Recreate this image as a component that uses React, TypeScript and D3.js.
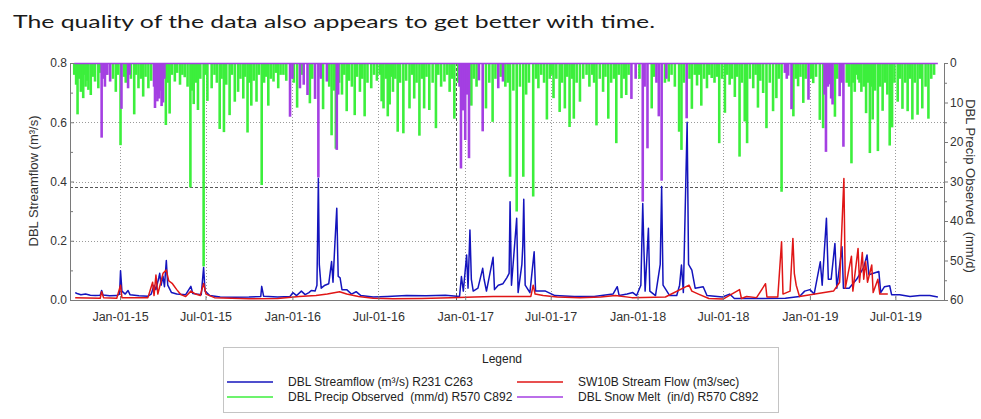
import React, { useEffect, useRef } from "react";
import * as d3 from "d3";

type Pt = [string, number];

const title = "The quality of the data also appears to get better with time.";

const xTickDates = [
  "2015-01-01", "2015-07-01", "2016-01-01", "2016-07-01", "2017-01-01",
  "2017-07-01", "2018-01-01", "2018-07-01", "2019-01-01", "2019-07-01",
];
const leftTicks = [0, 0.2, 0.4, 0.6, 0.8];
const leftMinorTicks = [0.1, 0.3, 0.5, 0.7];
const rightTicks = [0, 10, 20, 30, 40, 50, 60];
const rightMinorTicks = [5, 15, 25, 35, 45, 55];

// cursor cross-hair left on the chart
const cursorDate = "2016-12-13";
const cursorValue = 0.38;

// DBL Streamflow (m3/s)
const streamflow: Pt[] = [
  ["2014-09-28", 0.025], ["2014-10-02", 0.022], ["2014-10-10", 0.018], ["2014-10-20", 0.02],
  ["2014-10-30", 0.016], ["2014-11-10", 0.015], ["2014-11-20", 0.016], ["2014-11-23", 0.032],
  ["2014-11-26", 0.017], ["2014-12-10", 0.014], ["2014-12-25", 0.015], ["2014-12-31", 0.02],
  ["2015-01-02", 0.099], ["2015-01-05", 0.03], ["2015-01-12", 0.02], ["2015-01-18", 0.032],
  ["2015-01-22", 0.018], ["2015-02-10", 0.014], ["2015-03-01", 0.013], ["2015-03-08", 0.02],
  ["2015-03-14", 0.05], ["2015-03-18", 0.035], ["2015-03-24", 0.075], ["2015-03-26", 0.09],
  ["2015-03-29", 0.05], ["2015-04-02", 0.08], ["2015-04-05", 0.045], ["2015-04-09", 0.133],
  ["2015-04-12", 0.05], ["2015-04-20", 0.025], ["2015-05-01", 0.02], ["2015-05-20", 0.018],
  ["2015-05-31", 0.046], ["2015-06-04", 0.022], ["2015-06-12", 0.02], ["2015-06-22", 0.018],
  ["2015-06-27", 0.11], ["2015-06-30", 0.03], ["2015-07-10", 0.015], ["2015-08-01", 0.01],
  ["2015-09-01", 0.009], ["2015-10-01", 0.01], ["2015-10-26", 0.012], ["2015-10-28", 0.046],
  ["2015-11-01", 0.013], ["2015-12-01", 0.01], ["2015-12-27", 0.012], ["2016-01-02", 0.025],
  ["2016-01-10", 0.015], ["2016-01-20", 0.03], ["2016-01-28", 0.018], ["2016-02-05", 0.025],
  ["2016-02-10", 0.032], ["2016-02-18", 0.03], ["2016-02-22", 0.05], ["2016-02-25", 0.41],
  ["2016-02-27", 0.12], ["2016-03-02", 0.04], ["2016-03-10", 0.05], ["2016-03-18", 0.055],
  ["2016-03-24", 0.13], ["2016-03-27", 0.06], ["2016-03-31", 0.19], ["2016-04-04", 0.31],
  ["2016-04-07", 0.08], ["2016-04-11", 0.075], ["2016-04-15", 0.035], ["2016-04-25", 0.035],
  ["2016-05-05", 0.02], ["2016-05-15", 0.028], ["2016-05-25", 0.015], ["2016-06-20", 0.01],
  ["2016-07-20", 0.012], ["2016-08-30", 0.015], ["2016-10-10", 0.014], ["2016-11-20", 0.016],
  ["2016-12-20", 0.012], ["2016-12-24", 0.079], ["2016-12-28", 0.03], ["2017-01-04", 0.152],
  ["2017-01-07", 0.04], ["2017-01-11", 0.236], ["2017-01-14", 0.07], ["2017-01-18", 0.03],
  ["2017-01-28", 0.04], ["2017-02-07", 0.107], ["2017-02-10", 0.07], ["2017-02-15", 0.03],
  ["2017-03-01", 0.144], ["2017-03-04", 0.035], ["2017-03-12", 0.05], ["2017-03-22", 0.055],
  ["2017-03-30", 0.075], ["2017-04-04", 0.09], ["2017-04-06", 0.332], ["2017-04-09", 0.05],
  ["2017-04-20", 0.276], ["2017-04-23", 0.025], ["2017-05-01", 0.12], ["2017-05-03", 0.186],
  ["2017-05-05", 0.34], ["2017-05-08", 0.05], ["2017-05-18", 0.025], ["2017-05-27", 0.163],
  ["2017-05-30", 0.03], ["2017-06-20", 0.03], ["2017-07-10", 0.015], ["2017-08-20", 0.012],
  ["2017-10-01", 0.012], ["2017-11-10", 0.02], ["2017-11-19", 0.045], ["2017-11-23", 0.015],
  ["2017-12-10", 0.02], ["2017-12-22", 0.025], ["2017-12-30", 0.015], ["2018-01-08", 0.05],
  ["2018-01-12", 0.326], ["2018-01-14", 0.2], ["2018-01-17", 0.03], ["2018-01-24", 0.242],
  ["2018-01-27", 0.03], ["2018-02-08", 0.015], ["2018-02-18", 0.12], ["2018-02-21", 0.383],
  ["2018-02-24", 0.05], ["2018-03-10", 0.015], ["2018-03-25", 0.015], ["2018-03-31", 0.05],
  ["2018-04-04", 0.118], ["2018-04-08", 0.025], ["2018-04-16", 0.6], ["2018-04-19", 0.12],
  ["2018-04-26", 0.101], ["2018-05-03", 0.04], ["2018-05-20", 0.045], ["2018-05-28", 0.015],
  ["2018-06-30", 0.01], ["2018-07-15", 0.02], ["2018-07-25", 0.005], ["2018-09-15", 0.005],
  ["2018-11-10", 0.006], ["2018-12-10", 0.012], ["2018-12-21", 0.03], ["2019-01-01", 0.035],
  ["2019-01-10", 0.02], ["2019-01-23", 0.129], ["2019-01-27", 0.05], ["2019-02-05", 0.276],
  ["2019-02-09", 0.07], ["2019-02-15", 0.07], ["2019-02-23", 0.191], ["2019-02-27", 0.04],
  ["2019-03-10", 0.18], ["2019-03-13", 0.04], ["2019-03-25", 0.04], ["2019-04-10", 0.07],
  ["2019-04-25", 0.11], ["2019-05-02", 0.152], ["2019-05-06", 0.085], ["2019-05-27", 0.096],
  ["2019-05-31", 0.025], ["2019-06-08", 0.045], ["2019-06-19", 0.048], ["2019-06-23", 0.018],
  ["2019-07-10", 0.018], ["2019-08-01", 0.012], ["2019-08-22", 0.015], ["2019-09-12", 0.015],
  ["2019-09-29", 0.01],
];

// SW10B Stream Flow (m3/sec)
const sw10bFlow: Pt[] = [
  ["2014-09-28", 0.008], ["2014-11-20", 0.006], ["2014-11-23", 0.028], ["2014-11-27", 0.008],
  ["2014-12-25", 0.006], ["2015-01-02", 0.05], ["2015-01-05", 0.008], ["2015-03-01", 0.008],
  ["2015-03-11", 0.06], ["2015-03-14", 0.015], ["2015-03-18", 0.084], ["2015-03-22", 0.02],
  ["2015-04-02", 0.09], ["2015-04-09", 0.101], ["2015-04-14", 0.065], ["2015-04-22", 0.055],
  ["2015-05-01", 0.035], ["2015-05-10", 0.018], ["2015-05-20", 0.012], ["2015-05-31", 0.03],
  ["2015-06-10", 0.02], ["2015-06-20", 0.015], ["2015-06-27", 0.056], ["2015-07-02", 0.02],
  ["2015-07-20", 0.008], ["2015-10-01", 0.004], ["2015-12-01", 0.005], ["2016-01-15", 0.012],
  ["2016-02-20", 0.015], ["2016-03-15", 0.02], ["2016-04-10", 0.028], ["2016-04-25", 0.02],
  ["2016-05-20", 0.012], ["2016-06-20", 0.006], ["2016-08-01", 0.004], ["2016-10-01", 0.005],
  ["2016-12-01", 0.008], ["2017-01-20", 0.01], ["2017-03-01", 0.012], ["2017-05-20", 0.012],
  ["2017-05-25", 0.05], ["2017-05-29", 0.02], ["2017-06-15", 0.015], ["2017-07-15", 0.01],
  ["2017-09-01", 0.008], ["2017-10-15", 0.01], ["2017-11-15", 0.015], ["2017-12-20", 0.008],
  ["2018-03-01", 0.01], ["2018-04-20", 0.05], ["2018-04-26", 0.03], ["2018-05-10", 0.02],
  ["2018-06-01", 0.005], ["2018-07-01", 0.003], ["2018-08-05", 0.035], ["2018-08-09", 0.005],
  ["2018-08-20", 0.012], ["2018-09-10", 0.008], ["2018-09-29", 0.055], ["2018-10-02", 0.01],
  ["2018-10-25", 0.01], ["2018-11-02", 0.197], ["2018-11-05", 0.02], ["2018-11-20", 0.03],
  ["2018-11-26", 0.208], ["2018-11-29", 0.09], ["2018-12-03", 0.05], ["2018-12-10", 0.012],
  ["2019-02-20", 0.03], ["2019-03-05", 0.06], ["2019-03-14", 0.41], ["2019-03-17", 0.04],
  ["2019-03-30", 0.148], ["2019-04-02", 0.03], ["2019-04-13", 0.174], ["2019-04-16", 0.06],
  ["2019-04-22", 0.16], ["2019-04-25", 0.07], ["2019-04-29", 0.13], ["2019-05-03", 0.06],
  ["2019-05-12", 0.118], ["2019-05-15", 0.025], ["2019-05-25", 0.07], ["2019-05-29", 0.02],
  ["2019-06-10", 0.02], ["2019-06-15", 0.02],
];

// DBL Precip Observed (mm/d), right axis, hanging from the top
const precipObserved: Pt[] = [
  ["2014-09-26", 3], ["2014-09-30", 5.5], ["2014-10-03", 13], ["2014-10-06", 4], ["2014-10-10", 7.3],
  ["2014-10-15", 8.9], ["2014-10-18", 3], ["2014-10-20", 6], ["2014-10-23", 4.5], ["2014-10-26", 6.8],
  ["2014-10-31", 8.1], ["2014-11-04", 3.5], ["2014-11-09", 4.7], ["2014-11-16", 6.4], ["2014-11-19", 2.5],
  ["2014-12-03", 3], ["2014-12-17", 4], ["2014-12-23", 7.3], ["2014-12-27", 3],
  ["2015-01-02", 20.8], ["2015-01-09", 3.5], ["2015-01-13", 5], ["2015-01-24", 4], ["2015-01-31", 13],
  ["2015-02-04", 3], ["2015-02-09", 6.4], ["2015-02-14", 4], ["2015-02-19", 8.5], ["2015-02-24", 3.5],
  ["2015-03-02", 6.4], ["2015-03-08", 4.5], ["2015-04-08", 15.7], ["2015-04-12", 5], ["2015-04-16", 12.8],
  ["2015-04-21", 3], ["2015-04-27", 4.7], ["2015-05-02", 2.5], ["2015-05-08", 5.5], ["2015-05-13", 3],
  ["2015-05-18", 3.6], ["2015-05-24", 6], ["2015-05-30", 31.5], ["2015-06-03", 7], ["2015-06-06", 10.4],
  ["2015-06-11", 5], ["2015-06-15", 11.9], ["2015-06-20", 4], ["2015-06-27", 51.5], ["2015-07-01", 3],
  ["2015-07-05", 9.6], ["2015-07-14", 6.4], ["2015-07-20", 3], ["2015-07-25", 5], ["2015-07-31", 16.7],
  ["2015-08-04", 4], ["2015-08-09", 17.5], ["2015-08-14", 5.5], ["2015-08-21", 13.2], ["2015-08-26", 3],
  ["2015-09-01", 9.8], ["2015-09-08", 7.3], ["2015-09-13", 4], ["2015-09-19", 9], ["2015-09-23", 3.5],
  ["2015-09-28", 17.6], ["2015-10-02", 5], ["2015-10-06", 10.8], ["2015-10-11", 4.5], ["2015-10-17", 9.8],
  ["2015-10-22", 3], ["2015-10-28", 30.9], ["2015-11-02", 5], ["2015-11-06", 3.5], ["2015-11-11", 10.8],
  ["2015-11-16", 4], ["2015-11-22", 4.7], ["2015-11-27", 2.5], ["2015-12-02", 6.4], ["2015-12-07", 3],
  ["2015-12-13", 3], ["2015-12-19", 4.5],
  ["2016-01-04", 5], ["2016-01-11", 11.3], ["2016-01-21", 3], ["2016-02-07", 10.2], ["2016-02-12", 4],
  ["2016-03-01", 3.5], ["2016-03-06", 11.7], ["2016-03-19", 6], ["2016-03-24", 18.3], ["2016-03-29", 7],
  ["2016-04-02", 21.7], ["2016-04-09", 5], ["2016-04-15", 8], ["2016-04-20", 3], ["2016-04-25", 12.2],
  ["2016-04-30", 4.5], ["2016-05-06", 6], ["2016-05-12", 13.2], ["2016-05-17", 3.5], ["2016-05-23", 7.3],
  ["2016-05-28", 4], ["2016-06-02", 13.5], ["2016-06-08", 5], ["2016-06-16", 6.4], ["2016-06-22", 3],
  ["2016-06-28", 4.5], ["2016-07-04", 3], ["2016-07-08", 9.7], ["2016-07-12", 11.5], ["2016-07-17", 4],
  ["2016-07-21", 13.5], ["2016-07-25", 10.5], ["2016-07-28", 3.5], ["2016-08-01", 7.3], ["2016-08-06", 4],
  ["2016-08-11", 17.4], ["2016-08-16", 5], ["2016-08-23", 17.8], ["2016-08-29", 4.5], ["2016-09-05", 11.5],
  ["2016-09-10", 3], ["2016-09-15", 9], ["2016-09-20", 5], ["2016-09-26", 18.4], ["2016-10-01", 4],
  ["2016-10-06", 11.5], ["2016-10-11", 3.5], ["2016-10-17", 11.9], ["2016-10-24", 5], ["2016-10-31", 16.5],
  ["2016-11-05", 3], ["2016-11-11", 6], ["2016-11-18", 4.7], ["2016-11-24", 3], ["2016-11-29", 7.3],
  ["2016-12-04", 4], ["2016-12-09", 14.1], ["2016-12-17", 5],
  ["2017-01-14", 10.8], ["2017-01-19", 4], ["2017-01-25", 6], ["2017-02-14", 11.5], ["2017-02-21", 5],
  ["2017-02-28", 14.9], ["2017-03-06", 4], ["2017-03-17", 3.5], ["2017-03-27", 6], ["2017-04-01", 5],
  ["2017-04-06", 28.8], ["2017-04-13", 7], ["2017-04-20", 37.6], ["2017-04-27", 6], ["2017-05-04", 28.8],
  ["2017-05-10", 8], ["2017-05-16", 5], ["2017-05-25", 33.8], ["2017-05-31", 4], ["2017-06-05", 6.4],
  ["2017-06-11", 3], ["2017-06-17", 5], ["2017-06-23", 14.3], ["2017-06-29", 4], ["2017-07-03", 3],
  ["2017-07-07", 8.9], ["2017-07-13", 4], ["2017-07-20", 12.4], ["2017-07-25", 5], ["2017-07-31", 11.5],
  ["2017-08-05", 3.5], ["2017-08-10", 16.2], ["2017-08-15", 4], ["2017-08-19", 14.1], ["2017-08-25", 5],
  ["2017-09-01", 9.8], ["2017-09-08", 4], ["2017-09-15", 3], ["2017-09-21", 6], ["2017-09-27", 3],
  ["2017-10-01", 5], ["2017-10-06", 15.8], ["2017-10-13", 4], ["2017-10-20", 7.3], ["2017-10-25", 3.5],
  ["2017-10-31", 14.1], ["2017-11-06", 5], ["2017-11-12", 4], ["2017-11-17", 20.3], ["2017-11-22", 3],
  ["2017-11-28", 8.9], ["2017-12-03", 4], ["2017-12-08", 8.1], ["2017-12-13", 3],
  ["2018-01-05", 4], ["2018-01-31", 11.5], ["2018-02-05", 3.5], ["2018-02-28", 5], ["2018-03-08", 4.7],
  ["2018-03-14", 3], ["2018-03-21", 6], ["2018-03-30", 17.4], ["2018-04-04", 22], ["2018-04-09", 5],
  ["2018-04-21", 4], ["2018-04-26", 11.6], ["2018-05-02", 3], ["2018-05-07", 5.7], ["2018-05-11", 3],
  ["2018-05-16", 10.8], ["2018-05-22", 4], ["2018-05-28", 6.4], ["2018-06-02", 3], ["2018-06-07", 3.8],
  ["2018-06-13", 5], ["2018-06-18", 3.5], ["2018-06-23", 20.3], ["2018-06-29", 4], ["2018-07-05", 12.6],
  ["2018-07-10", 3], ["2018-07-15", 5.5], ["2018-07-20", 4], ["2018-07-26", 8.6], ["2018-07-31", 3.5],
  ["2018-08-05", 23.7], ["2018-08-10", 5], ["2018-08-16", 14.8], ["2018-08-21", 20.3], ["2018-08-27", 4],
  ["2018-09-03", 6.4], ["2018-09-08", 3], ["2018-09-13", 11.3], ["2018-09-18", 4.5], ["2018-09-24", 7.6],
  ["2018-10-01", 16.5], ["2018-10-08", 5], ["2018-10-15", 12.2], ["2018-10-22", 8.9], ["2018-10-27", 4],
  ["2018-11-02", 32.6], ["2018-11-27", 13.5], ["2018-12-02", 4], ["2018-12-07", 5.9], ["2018-12-12", 3.5],
  ["2018-12-18", 10.1], ["2018-12-23", 4],
  ["2019-01-03", 4], ["2019-01-08", 5.1], ["2019-01-14", 3.5], ["2019-01-22", 14.4], ["2019-01-29", 16.5],
  ["2019-02-23", 13.6], ["2019-02-28", 4], ["2019-03-20", 5], ["2019-03-25", 6], ["2019-03-30", 25.4],
  ["2019-04-03", 5], ["2019-04-06", 7.3], ["2019-04-10", 3], ["2019-04-13", 4.2], ["2019-04-16", 5],
  ["2019-04-20", 7.3], ["2019-04-25", 6], ["2019-04-30", 12.7], ["2019-05-04", 5], ["2019-05-08", 22.8],
  ["2019-05-11", 6], ["2019-05-14", 14.3], ["2019-05-19", 7], ["2019-05-25", 22.3], ["2019-05-30", 6],
  ["2019-06-04", 12.1], ["2019-06-09", 5], ["2019-06-14", 8], ["2019-06-19", 20.9], ["2019-06-24", 16.3],
  ["2019-06-29", 5], ["2019-07-06", 9.8], ["2019-07-11", 4], ["2019-07-16", 11.6], ["2019-07-22", 5],
  ["2019-07-27", 12.2], ["2019-08-01", 4], ["2019-08-06", 14.3], ["2019-08-11", 5], ["2019-08-17", 13.1],
  ["2019-08-22", 4], ["2019-08-27", 11.5], ["2019-09-03", 6], ["2019-09-09", 14.1], ["2019-09-15", 4],
  ["2019-09-21", 3],
];

// DBL Snow Melt (in/d), drawn on the right axis too
const snowMelt: Pt[] = [
  ["2014-11-23", 18.9], ["2014-11-27", 4], ["2014-11-30", 6], ["2014-12-05", 3], ["2014-12-11", 4.7],
  ["2015-01-04", 11.6], ["2015-01-18", 6.4], ["2015-01-21", 3], ["2015-03-14", 6], ["2015-03-16", 11.4],
  ["2015-03-19", 8], ["2015-03-21", 9.7], ["2015-03-25", 9], ["2015-03-28", 7], ["2015-03-30", 10.9],
  ["2015-04-02", 10], ["2015-04-05", 4], ["2015-12-27", 13.6], ["2016-01-01", 4], ["2016-01-17", 6.4],
  ["2016-01-25", 5.5], ["2016-02-02", 8.1], ["2016-02-18", 9.1], ["2016-02-25", 29], ["2016-03-01", 4],
  ["2016-03-14", 4.7], ["2016-04-04", 22], ["2016-04-07", 8], ["2016-12-20", 6], ["2016-12-23", 26.7],
  ["2016-12-27", 12], ["2017-01-01", 19.5], ["2017-01-05", 8], ["2017-01-09", 24.1], ["2017-01-30", 4.4],
  ["2017-02-07", 17.3], ["2017-03-12", 6.4], ["2017-03-22", 4.7], ["2017-12-19", 9.1], ["2017-12-28", 4],
  ["2018-01-12", 35.1], ["2018-01-16", 6], ["2018-01-22", 21.6], ["2018-02-10", 5], ["2018-02-15", 13.5],
  ["2018-02-21", 29.8], ["2018-03-03", 4], ["2018-04-15", 14], ["2018-11-09", 2.5], ["2018-11-13", 4],
  ["2018-11-16", 3.2], ["2018-11-23", 11.7], ["2018-12-29", 9.3], ["2019-02-01", 8], ["2019-02-04", 22.5],
  ["2019-02-08", 6], ["2019-02-12", 5.4], ["2019-02-15", 9], ["2019-02-18", 10.5], ["2019-03-05", 8.4],
  ["2019-03-09", 5], ["2019-03-13", 21.2],
];

const legendItems = [
  { label: "DBL Streamflow (m³/s) R231 C263", color: "#1414bd" },
  { label: "DBL Precip Observed  (mm/d) R570 C892", color: "#3cef3c" },
  { label: "SW10B Stream Flow (m3/sec)", color: "#e01616" },
  { label: "DBL Snow Melt  (in/d) R570 C892", color: "#a43fe2" },
];

const parse = d3.utcParse("%Y-%m-%d");
const W = 981;
const H = 419;
const plot = { left: 70, right: 944, top: 63, bottom: 300 };
const axisFont = "'Liberation Sans', Arial, sans-serif";

const App = () => {
  const svgRef = useRef<SVGSVGElement>(null);

  useEffect(() => {
    const svg = d3.select(svgRef.current);
    svg.selectAll("*").remove();

    const x = d3.scaleUtc(
      [parse("2014-09-17")!, parse("2019-10-12")!],
      [plot.left, plot.right]
    );
    const yL = d3.scaleLinear([0, 0.8], [plot.bottom, plot.top]);
    const yR = d3.scaleLinear([0, 60], [plot.top, plot.bottom]);

    svg.append("rect").attr("width", W).attr("height", H).attr("fill", "#fff");

    // title
    svg
      .append("text")
      .attr("x", 13)
      .attr("y", 28)
      .attr("font-family", "Lato, 'Open Sans', sans-serif")
      .attr("font-size", 18)
      .attr("fill", "#1a1a1a")
      .attr("textLength", 642)
      .attr("lengthAdjust", "spacingAndGlyphs")
      .text(title);

    // grid
    const grid = svg.append("g").attr("stroke", "#9a9a9a").attr("stroke-width", 1);
    xTickDates.forEach((d) => {
      const gx = Math.round(x(parse(d)!)) + 0.5;
      grid
        .append("line")
        .attr("x1", gx)
        .attr("x2", gx)
        .attr("y1", plot.top)
        .attr("y2", plot.bottom)
        .attr("stroke-dasharray", "1,2");
    });
    [0.2, 0.4, 0.6].forEach((v) => {
      const gy = Math.round(yL(v)) + 0.5;
      grid
        .append("line")
        .attr("x1", plot.left)
        .attr("x2", plot.right)
        .attr("y1", gy)
        .attr("y2", gy)
        .attr("stroke-dasharray", "1,2");
    });

    // cursor cross-hair
    const cx = Math.round(x(parse(cursorDate)!)) + 0.5;
    const cy = Math.round(yL(cursorValue)) + 0.5;
    svg
      .append("line")
      .attr("x1", cx)
      .attr("x2", cx)
      .attr("y1", plot.top)
      .attr("y2", plot.bottom)
      .attr("stroke", "#555")
      .attr("stroke-dasharray", "3,2");
    svg
      .append("line")
      .attr("x1", plot.left)
      .attr("x2", plot.right)
      .attr("y1", cy)
      .attr("y2", cy)
      .attr("stroke", "#555")
      .attr("stroke-dasharray", "3,2");

    // precip and snow melt bars hanging from the top
    const bars = (data: Pt[], color: string) =>
      svg
        .append("g")
        .selectAll("line")
        .data(data)
        .join("line")
        .attr("x1", (d) => x(parse(d[0])!))
        .attr("x2", (d) => x(parse(d[0])!))
        .attr("y1", yR(0))
        .attr("y2", (d) => yR(d[1]))
        .attr("stroke", color)
        .attr("stroke-width", 2.6);
    bars(precipObserved, legendItems[1].color);
    bars(snowMelt, legendItems[3].color);
    svg
      .append("line")
      .attr("x1", x(parse("2014-09-26")!))
      .attr("x2", x(parse("2019-09-29")!))
      .attr("y1", yR(0) + 0.5)
      .attr("y2", yR(0) + 0.5)
      .attr("stroke", legendItems[3].color)
      .attr("stroke-width", 1.5);

    // streamflow lines
    const line = d3
      .line<Pt>()
      .x((d) => x(parse(d[0])!))
      .y((d) => yL(d[1]));
    svg
      .append("path")
      .attr("fill", "none")
      .attr("stroke", legendItems[0].color)
      .attr("stroke-width", 1.5)
      .attr("stroke-linejoin", "round")
      .attr("d", line(streamflow));
    svg
      .append("path")
      .attr("fill", "none")
      .attr("stroke", legendItems[2].color)
      .attr("stroke-width", 1.5)
      .attr("stroke-linejoin", "round")
      .attr("d", line(sw10bFlow));

    // axes
    const styleAxis = (g: d3.Selection<SVGGElement, unknown, null, undefined>) => {
      g.attr("color", "#7a7a7a")
        .attr("font-family", axisFont)
        .attr("font-size", 12)
        .selectAll("text")
        .attr("fill", "#333");
    };
    svg
      .append("g")
      .attr("transform", `translate(${plot.left},0)`)
      .call(d3.axisLeft(yL).tickValues(leftTicks).tickFormat(d3.format(".1f")).tickSize(-4).tickSizeOuter(0).tickPadding(3))
      .call(styleAxis);
    svg
      .append("g")
      .attr("transform", `translate(${plot.left},0)`)
      .call(d3.axisLeft(yL).tickValues(leftMinorTicks).tickFormat(() => "").tickSize(-3).tickSizeOuter(0))
      .call(styleAxis)
      .call((g) => g.select(".domain").remove());
    svg
      .append("g")
      .attr("transform", `translate(${plot.right},0)`)
      .call(d3.axisRight(yR).tickValues(rightTicks).tickSize(4).tickSizeOuter(0).tickPadding(2))
      .call(styleAxis);
    svg
      .append("g")
      .attr("transform", `translate(${plot.right},0)`)
      .call(d3.axisRight(yR).tickValues(rightMinorTicks).tickFormat(() => "").tickSize(3).tickSizeOuter(0))
      .call(styleAxis)
      .call((g) => g.select(".domain").remove());
    svg
      .append("g")
      .attr("transform", `translate(0,${plot.bottom})`)
      .call(
        d3
          .axisBottom(x)
          .tickValues(xTickDates.map((d) => parse(d)!))
          .tickFormat((d) => d3.utcFormat("%b-%d-%y")(d as Date))
          .tickSize(-4)
          .tickSizeOuter(0)
          .tickPadding(12)
      )
      .call(styleAxis)
      .call((g) => g.selectAll("text").attr("font-size", 12.5));

    // axis titles
    svg
      .append("text")
      .attr("transform", `translate(38,181) rotate(-90)`)
      .attr("text-anchor", "middle")
      .attr("font-family", axisFont)
      .attr("font-size", 13)
      .attr("fill", "#333")
      .text("DBL Streamflow (m³/s)");
    svg
      .append("text")
      .attr("transform", `translate(966,186) rotate(90)`)
      .attr("text-anchor", "middle")
      .attr("font-family", axisFont)
      .attr("font-size", 13)
      .attr("fill", "#333")
      .style("white-space", "pre")
      .text("DBL Precip Observed  (mm/d)");

    // legend
    const lg = svg.append("g").attr("font-family", axisFont).attr("font-size", 12).attr("fill", "#222");
    lg.append("rect")
      .attr("x", 223.5)
      .attr("y", 347.5)
      .attr("width", 555)
      .attr("height", 65)
      .attr("fill", "#fff")
      .attr("stroke", "#c4c4c4");
    lg.append("text").attr("x", 502).attr("y", 363).attr("text-anchor", "middle").text("Legend");
    legendItems.forEach((item, i) => {
      const col = i < 2 ? 0 : 1;
      const row = i % 2;
      const lx = col === 0 ? 227 : 517;
      const ly = 382 + row * 15;
      lg.append("line")
        .attr("x1", lx)
        .attr("x2", lx + 46)
        .attr("y1", ly)
        .attr("y2", ly)
        .attr("stroke", item.color)
        .attr("stroke-width", 1.5);
      lg.append("text")
        .attr("x", lx + 61)
        .attr("y", ly + 4)
        .style("white-space", "pre")
        .text(item.label);
    });
  }, []);

  return (
    <svg
      ref={svgRef}
      width={W}
      height={H}
      style={{ position: "absolute", left: 0, top: 0, display: "block" }}
    />
  );
};

export default App;
